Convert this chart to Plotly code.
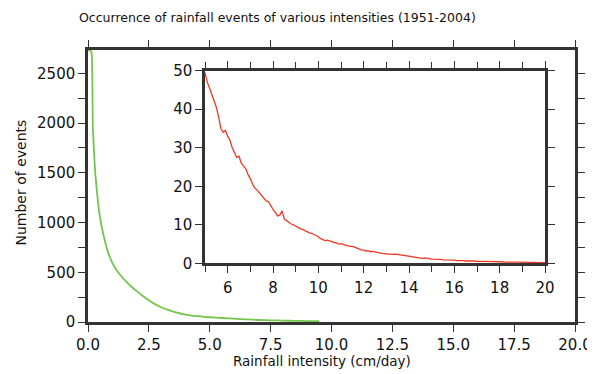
import plotly.graph_objects as go

# ---------------- data ----------------
green_x = [0.0, 0.05, 0.1, 0.15, 0.2, 0.25, 0.3, 0.4, 0.5, 0.6, 0.7, 0.8, 0.9, 1.0,
           1.1, 1.2, 1.4, 1.6, 1.8, 2.0, 2.25, 2.5, 2.75, 3.0, 3.25, 3.5, 3.75, 4.0,
           4.25, 4.5, 4.75, 5.0, 5.5, 6.0, 6.5, 7.0, 7.5, 8.0, 8.5, 9.0, 9.5]
green_y = [2735, 2735, 2730, 2700, 1950, 1700, 1490, 1230, 1040, 915, 810, 720, 650, 595,
           550, 512, 450, 398, 352, 310, 262, 218, 180, 148, 124, 104, 88, 75,
           65, 58, 52, 48, 40, 33, 26, 20, 17, 14, 11.5, 9.5, 8]

inset_x = [round(5 + 0.1 * i, 1) for i in range(151)]
inset_y = [
    49.5, 47, 45.5, 44, 42, 40.5, 38, 35, 34, 34.5,          # 5.0 - 5.9
    33, 32, 30, 28.5, 27.5, 27.8, 26, 25.3, 24.5, 23,        # 6.0 - 6.9
    22, 20.5, 19.5, 19, 18.3, 17.5, 17, 16.2, 16, 14.8,      # 7.0 - 7.9
    14, 13.2, 12.3, 12.5, 13.6, 11.5, 11, 10.6, 10.2, 10,    # 8.0 - 8.9
    9.6, 9.4, 9.0, 8.8, 8.5, 8.0, 7.9, 7.8, 7.5, 7.3,        # 9.0 - 9.9
    6.9, 6.4, 6.1, 5.9, 6.0, 5.7, 5.6, 5.4, 5.3, 5.0,        # 10.0 - 10.9
    5.1, 4.9, 4.6, 4.5, 4.4, 4.4, 4.2, 3.9, 3.7, 3.5,        # 11.0 - 11.9
    3.4, 3.2, 3.3, 3.0, 3.1, 2.9, 2.8, 2.7, 2.6, 2.5,        # 12.0 - 12.9
    2.5, 2.4, 2.4, 2.3, 2.4, 2.3, 2.2, 2.2, 2.1, 2.0,        # 13.0 - 13.9
    1.9, 1.8, 1.6, 1.5, 1.5, 1.4, 1.3, 1.4, 1.2, 1.2,        # 14.0 - 14.9
    1.1, 1.1, 1.0, 1.1, 1.0, 0.9, 0.9, 0.8, 0.9, 0.8,        # 15.0 - 15.9
    0.8, 0.7, 0.7, 0.8, 0.7, 0.6, 0.6, 0.7, 0.6, 0.6,        # 16.0 - 16.9
    0.5, 0.6, 0.5, 0.5, 0.5, 0.4, 0.5, 0.4, 0.5, 0.4,        # 17.0 - 17.9
    0.4, 0.4, 0.3, 0.4, 0.3, 0.3, 0.4, 0.3, 0.3, 0.3,        # 18.0 - 18.9
    0.2, 0.3, 0.2, 0.3, 0.2, 0.2, 0.3, 0.2, 0.2, 0.2,        # 19.0 - 19.9
    0.2,                                                     # 20.0
]

title_text = "Occurrence of rainfall events of various intensities (1951-2004)"
x_title = "Rainfall intensity (cm/day)"
y_title = "Number of events"

# ---------------- figure ----------------
# The page body has an 8px default margin, so the figure is drawn 8px in
# from the window's top-left corner; positions below are window pixels.
OFF = 8
W, H = 595 - OFF, 374 - OFF
FONT = "DejaVu Sans, Liberation Sans, sans-serif"
TXT = "#111111"
FRAME = "#333333"

def px(x):
    return (x - OFF) / W

def py(y):
    return 1 - (y - OFF) / H

fig = go.Figure()
fig.add_trace(go.Scatter(x=green_x, y=green_y, mode="lines",
                         line=dict(color="rgb(115,198,75)", width=1.8, shape="spline", smoothing=0.5),
                         xaxis="x", yaxis="y", showlegend=False))
fig.add_trace(go.Scatter(x=inset_x, y=inset_y, mode="lines",
                         line=dict(color="rgb(240,55,35)", width=1.3),
                         xaxis="x2", yaxis="y2", showlegend=False))

common = dict(showline=True, linewidth=2.5, linecolor=FRAME, mirror="ticks",
              ticks="outside", ticklen=7, tickwidth=1.2, tickcolor=FRAME,
              showgrid=False, zeroline=False, automargin=False,
              ticklabeloverflow="allow",
              tickfont=dict(family=FONT, size=15, color=TXT))

fig.update_layout(
    width=W, height=H,
    margin=dict(l=0, r=0, t=0, b=0, autoexpand=False),
    paper_bgcolor="white", plot_bgcolor="white",
    xaxis=dict(domain=[px(88), px(575)], range=[0, 20], dtick=2.5, tick0=0,
               tickformat=".1f", anchor="y", **common),
    yaxis=dict(domain=[py(322), py(50)], range=[0, 2735], dtick=500, tick0=0,
               minor=dict(dtick=250, ticks="outside", ticklen=7, tickcolor=FRAME),
               anchor="x", **common),
    xaxis2=dict(domain=[px(205), px(545)], range=[5, 20], dtick=2, tick0=0,
                minor=dict(dtick=1, ticks="outside", ticklen=6, tickcolor=FRAME),
                anchor="y2", ticklabelstandoff=2, **common),
    yaxis2=dict(domain=[py(263.3), py(70.7)], range=[0, 50], dtick=10, tick0=0,
                anchor="x2", **common),
    annotations=[
        dict(text=title_text, x=px(277), y=py(17), xref="paper", yref="paper",
             showarrow=False, xanchor="center", yanchor="middle",
             font=dict(family=FONT, size=12.5, color=TXT)),
        dict(text=x_title, x=px(322), y=py(361), xref="paper", yref="paper",
             showarrow=False, xanchor="center", yanchor="middle",
             font=dict(family=FONT, size=13.5, color=TXT)),
        dict(text=y_title, x=px(21), y=py(182.5), xref="paper", yref="paper",
             showarrow=False, xanchor="center", yanchor="middle", textangle=-90,
             font=dict(family=FONT, size=14, color=TXT)),
    ],
)

fig.write_html("out.html")
